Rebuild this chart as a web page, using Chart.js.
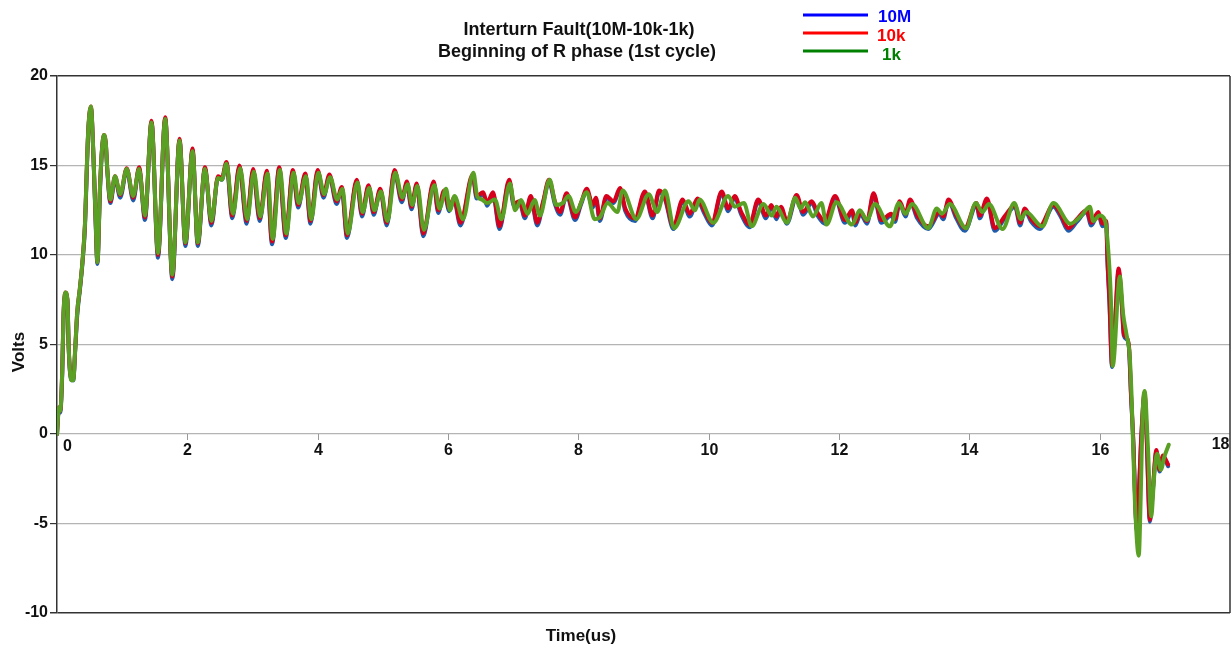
<!DOCTYPE html>
<html><head><meta charset="utf-8">
<script src="https://cdn.jsdelivr.net/npm/chart.js@4.4.1/dist/chart.umd.min.js"></script>
<style>html,body{margin:0;padding:0;background:#fff;overflow:hidden}#wrap{width:1232px;height:645px;position:relative}</style>
</head><body><div id="wrap"><canvas id="c" width="1232" height="645"></canvas></div>
<script>
// ---- data ----
const titleLines = ['Interturn Fault(10M-10k-1k)', 'Beginning of R phase (1st cycle)'];
const seriesNames = ['10M', '10k', '1k'];
const xTickValues = [0, 2, 4, 6, 8, 10, 12, 14, 16, 18];
const yTickValues = [-10, -5, 0, 5, 10, 15, 20];
const xTitle = 'Time(us)';
const yTitle = 'Volts';

// time samples (us) shared by the 10M and 10k traces
const timeA = [0,0.03,0.05,0.08,0.10,0.13,0.16,0.18,0.22,0.25,
0.28,0.31,0.35,0.39,0.43,0.455,0.48,0.52,0.56,0.59,
0.62,0.66,0.69,0.72,0.75,0.77,0.82,0.89,0.97,1.07,
1.17,1.26,1.35,1.45,1.55,1.66,1.77,1.88,1.97,2.08,
2.16,2.27,2.37,2.47,2.53,2.60,2.69,2.80,2.91,3.01,
3.11,3.22,3.30,3.41,3.51,3.62,3.70,3.81,3.89,4.00,
4.09,4.18,4.29,4.37,4.45,4.60,4.68,4.78,4.86,4.96,
5.06,5.18,5.29,5.37,5.44,5.52,5.62,5.78,5.85,5.94,
6.02,6.09,6.19,6.38,6.44,6.54,6.60,6.69,6.79,6.94,
7.01,7.10,7.18,7.27,7.37,7.46,7.55,7.64,7.72,7.82,
7.95,8.04,8.13,8.22,8.27,8.33,8.43,8.54,8.64,8.72,
8.87,9.02,9.14,9.24,9.33,9.46,9.60,9.71,9.83,9.93,
10.05,10.20,10.30,10.40,10.50,10.63,10.76,10.88,10.96,11.04,
11.11,11.20,11.35,11.45,11.58,11.68,11.78,11.94,12.09,12.20,
12.25,12.33,12.43,12.53,12.65,12.80,12.86,12.93,13.02,13.09,
13.20,13.37,13.54,13.60,13.68,13.80,13.93,14.11,14.16,14.27,
14.39,14.55,14.70,14.78,14.85,14.95,15.08,15.29,15.40,15.52,
15.65,15.80,15.87,15.98,16.04,16.10,16.12,16.15,16.19,16.24,
16.29,16.34,16.37,16.41,16.45,16.48,16.52,16.54,16.57,16.60,
16.64,16.69,16.72,16.77,16.81,16.87,16.92,16.97,17.05];

const volts10M = [0,1.4,1.2,3.3,6.5,7.8,7.4,4.7,3.0,3.0,
4.7,6.6,8.0,9.5,11.6,14.4,16.9,18.2,15.4,12.1,
9.5,13.6,15.8,16.6,16.1,14.8,12.9,14.3,13.2,14.75,
13.05,14.8,11.95,17.4,9.85,17.6,8.65,16.4,10.5,15.85,
10.5,14.8,11.65,14.3,14.2,15.1,12.05,14.9,11.75,14.7,
11.9,14.6,10.6,14.8,10.95,14.65,12.65,14.45,11.75,14.65,
13.2,14.4,12.85,13.7,10.95,14.1,12.15,13.8,12.25,13.6,
11.65,14.65,12.95,14.0,12.55,13.9,11.05,14.0,12.35,13.5,
12.45,13.1,11.65,14.4,13.15,13.4,12.75,13.4,11.45,14.1,
12.75,12.9,12.05,13.2,11.65,12.9,14.1,12.85,12.25,13.35,
11.95,12.8,13.6,12.65,13.1,11.9,13.2,12.9,13.65,12.45,
11.9,13.45,12.05,13.5,13.1,11.45,13.0,12.15,13.05,12.35,
11.65,13.45,12.45,13.2,12.25,11.55,13.0,12.05,12.7,12.0,
12.6,11.75,13.25,12.25,12.9,12.15,11.75,13.2,11.8,12.4,
11.65,12.3,11.75,13.35,11.8,12.2,11.85,12.9,12.15,13.0,
12.05,11.45,12.3,12.0,13.0,12.05,11.35,12.8,12.05,13.05,
11.35,12.1,12.7,11.65,12.5,11.85,11.45,12.7,12.15,11.35,
11.85,12.4,11.65,12.3,11.6,11.8,9.6,7.3,3.75,6.4,
9.1,7.2,5.5,5.3,4.8,2.2,-0.8,-3.2,-5.4,-3.5,
-0.1,2.2,-0.1,-4.9,-3.5,-1.0,-2.1,-1.3,-1.8];

const volts10k = [0,1.5,1.3,3.5,6.7,7.9,7.5,4.8,3.1,3.1,
4.8,6.8,8.1,9.6,11.8,14.6,17.0,18.3,15.5,12.3,
9.6,13.8,15.9,16.7,16.2,14.9,13.0,14.4,13.35,14.85,
13.2,14.9,12.1,17.5,10.0,17.7,8.8,16.5,10.65,15.95,
10.65,14.9,11.8,14.4,14.3,15.2,12.2,15.0,11.9,14.8,
12.05,14.7,10.75,14.9,11.1,14.75,12.8,14.55,11.9,14.75,
13.35,14.5,13.0,13.8,11.1,14.2,12.3,13.9,12.4,13.7,
11.8,14.75,13.1,14.1,12.7,14.0,11.2,14.1,12.5,13.6,
12.6,13.2,11.8,14.5,13.3,13.5,12.9,13.5,11.6,14.2,
12.9,13.0,12.2,13.3,11.8,13.0,14.2,13.0,12.4,13.45,
12.1,12.9,13.7,12.8,13.2,12.05,13.3,13.0,13.75,12.6,
12.05,13.55,12.2,13.6,13.2,11.6,13.1,12.3,13.15,12.5,
11.8,13.55,12.6,13.3,12.4,11.7,13.1,12.2,12.8,12.15,
12.7,11.9,13.35,12.4,13.0,12.3,11.9,13.3,11.95,12.5,
11.8,12.4,11.9,13.45,11.95,12.3,12.0,13.0,12.3,13.1,
12.2,11.6,12.4,12.15,13.1,12.2,11.5,12.9,12.2,13.15,
11.5,12.2,12.8,11.8,12.6,12.0,11.6,12.8,12.3,11.5,
12.0,12.5,11.8,12.4,11.75,11.9,9.7,7.5,3.85,6.5,
9.25,7.3,5.6,5.4,4.9,2.3,-0.7,-3.1,-5.3,-3.4,
0.0,2.3,0.0,-4.8,-3.4,-0.9,-2.0,-1.2,-1.7];

// 1k trace: [time (us), volts]
const points1k = [[0,0],[0.03,1.5],[0.05,1.3],[0.08,3.5],[0.10,6.7],[0.13,7.9],[0.16,7.5],[0.18,4.8],[0.22,3.0],[0.25,3.0],
[0.28,4.8],[0.31,6.8],[0.35,8.1],[0.39,9.6],[0.43,11.8],[0.455,14.6],[0.48,17.0],[0.52,18.3],[0.56,15.5],[0.59,12.3],
[0.62,9.6],[0.66,13.8],[0.69,15.9],[0.72,16.7],[0.75,16.2],[0.77,14.9],[0.82,13.1],[0.89,14.4],[0.97,13.4],[1.07,14.8],
[1.17,13.3],[1.26,14.8],[1.35,12.2],[1.45,17.4],[1.55,10.1],[1.66,17.6],[1.77,8.9],[1.88,16.4],[1.97,10.7],[2.08,15.8],
[2.16,10.7],[2.27,14.8],[2.37,11.9],[2.47,14.3],[2.53,14.2],[2.60,15.1],[2.70,12.3],[2.81,14.85],[2.92,12.0],[3.02,14.65],
[3.12,12.15],[3.23,14.55],[3.31,10.9],[3.42,14.75],[3.52,11.2],[3.63,14.6],[3.71,12.9],[3.82,14.4],[3.90,12.0],[4.01,14.6],
[4.10,13.4],[4.19,14.35],[4.30,13.1],[4.38,13.7],[4.46,11.2],[4.61,14.05],[4.69,12.4],[4.79,13.75],[4.87,12.5],[4.97,13.55],
[5.07,11.9],[5.19,14.6],[5.30,13.2],[5.38,13.95],[5.45,12.8],[5.53,13.85],[5.63,11.4],[5.79,13.9],[5.87,12.6],[5.97,13.7],
[6.03,12.5],[6.10,13.3],[6.23,12.0],[6.39,14.6],[6.45,13.25],[6.52,13.1],[6.60,12.9],[6.72,13.1],[6.82,12.0],[6.95,14.0],
[7.03,12.5],[7.12,13.07],[7.22,12.3],[7.33,13.07],[7.41,12.2],[7.56,14.2],[7.66,12.8],[7.76,12.9],[7.85,13.3],[7.96,12.4],
[8.13,13.5],[8.25,12.0],[8.33,12.1],[8.45,12.9],[8.60,12.4],[8.68,13.6],[8.89,12.0],[9.08,13.4],[9.21,12.4],[9.33,13.6],
[9.47,11.5],[9.69,13.0],[9.79,12.5],[9.86,13.1],[10.07,11.8],[10.30,13.3],[10.40,12.7],[10.54,12.9],[10.66,11.6],[10.84,12.85],
[10.97,12.2],[11.04,12.7],[11.20,11.8],[11.33,13.2],[11.41,12.6],[11.48,12.95],[11.60,12.15],[11.73,12.9],[11.81,11.7],[11.96,12.95],
[12.20,11.7],[12.32,12.5],[12.43,11.95],[12.55,12.85],[12.78,11.6],[12.92,12.9],[13.02,12.3],[13.12,12.85],[13.37,11.5],[13.50,12.6],
[13.58,12.3],[13.70,12.85],[13.95,11.5],[14.10,12.9],[14.20,12.4],[14.30,12.85],[14.51,11.45],[14.69,12.9],[14.79,12.0],[14.87,12.4],
[15.12,11.6],[15.29,12.9],[15.55,11.75],[15.72,12.2],[15.85,12.7],[15.90,11.9],[16.00,12.2],[16.08,11.95],[16.15,9.25],[16.18,6.7],
[16.20,3.8],[16.31,8.8],[16.36,6.7],[16.41,5.6],[16.46,4.4],[16.49,2.1],[16.54,-3.7],[16.60,-6.8],[16.63,-3.5],[16.66,1.2],
[16.69,2.4],[16.74,-0.7],[16.79,-4.6],[16.84,-2.2],[16.88,-1.1],[16.94,-2.0],[16.99,-1.3],[17.06,-0.6]];

// ---- build chart ----
const FONT = '"Liberation Sans", Arial, Helvetica, sans-serif';
function pairUp(ts, vs){ const n = Math.min(ts.length, vs.length); const out=[]; for(let i=0;i<n;i++) out.push({x:ts[i], y:vs[i]}); return out; }
const data10M = pairUp(timeA, volts10M);
const data10k = pairUp(timeA, volts10k);
const data1k = points1k.map(p => ({x:p[0], y:p[1]}));

const plotColors = ['#1f5cab', '#d6001c', '#5aa024'];
const legendColors = ['#0000ff', '#ff0000', '#008000'];

const deco = {
  id: 'deco',
  afterDraw(chart){
    const {ctx, chartArea:a, scales:{x, y}} = chart;
    ctx.save();
    // right frame line
    ctx.strokeStyle = '#333'; ctx.lineWidth = 1.5;
    ctx.beginPath(); ctx.moveTo(a.right, a.top); ctx.lineTo(a.right, a.bottom); ctx.stroke();
    // x ticks on the zero line
    const y0 = y.getPixelForValue(0);
    ctx.strokeStyle = '#999'; ctx.lineWidth = 1;
    ctx.fillStyle = '#111';
    ctx.font = 'bold 16px ' + FONT;
    ctx.textBaseline = 'middle';
    xTickValues.forEach((v, i) => {
      const px = Math.round(x.getPixelForValue(v)) + 0.5;
      if (i > 0 && i < xTickValues.length - 1) {
        ctx.beginPath(); ctx.moveTo(px, y0); ctx.lineTo(px, y0 + 6); ctx.stroke();
      }
      let tx = px, al = 'center', ty = y0 + 17;
      if (i === 0) { tx = px + 10; ty = y0 + 13; }
      if (i === xTickValues.length - 1) { tx = px - 1; al = 'right'; ty = y0 + 11; }
      ctx.textAlign = al;
      ctx.fillText(String(v), tx, ty);
    });
    // titles
    ctx.textBaseline = 'alphabetic';
    ctx.textAlign = 'center';
    ctx.fillStyle = '#111';
    ctx.font = 'bold 18px ' + FONT;
    ctx.fillText(titleLines[0], 579, 35);
    ctx.fillText(titleLines[1], 577, 56.5);
    // legend
    const ly = [15, 33, 51], lb = [22, 41, 60], lx = [878, 877, 882];
    ctx.font = 'bold 17px ' + FONT;
    ctx.textAlign = 'left';
    seriesNames.forEach((nm, i) => {
      ctx.strokeStyle = legendColors[i]; ctx.lineWidth = 3;
      ctx.beginPath(); ctx.moveTo(803, ly[i]); ctx.lineTo(868, ly[i]); ctx.stroke();
      ctx.fillStyle = legendColors[i];
      ctx.fillText(nm, lx[i], lb[i]);
    });
    // axis titles
    ctx.fillStyle = '#111';
    ctx.font = 'bold 17px ' + FONT;
    ctx.textAlign = 'center';
    ctx.fillText(xTitle, 581, 641);
    ctx.save();
    ctx.translate(24, 352);
    ctx.rotate(-Math.PI/2);
    ctx.fillText(yTitle, 0, 0);
    ctx.restore();
    ctx.restore();
  }
};

const lineDs = (label, data, color, order) => ({
  label, data, borderColor: color, backgroundColor: color,
  borderWidth: 4, pointRadius: 0, pointHoverRadius: 0, fill: false,
  cubicInterpolationMode: 'monotone', order, borderJoinStyle: 'round', borderCapStyle: 'round'
});

new Chart(document.getElementById('c'), {
  type: 'line',
  data: { datasets: [
    lineDs(seriesNames[0], data10M, plotColors[0], 2),
    lineDs(seriesNames[1], data10k, plotColors[1], 1),
    lineDs(seriesNames[2], data1k, plotColors[2], 0)
  ]},
  options: {
    responsive: false, animation: false, devicePixelRatio: 1,
    layout: { padding: { top: 76, right: 2, bottom: 32, left: 0 } },
    plugins: { legend: { display: false }, title: { display: false }, tooltip: { enabled: false } },
    events: [],
    scales: {
      x: { type: 'linear', display: false, min: xTickValues[0], max: xTickValues[xTickValues.length-1] },
      y: {
        type: 'linear', min: yTickValues[0], max: yTickValues[yTickValues.length-1],
        afterFit(s){ s.width = 57; },
        afterBuildTicks(s){ s.ticks = yTickValues.map(v => ({value: v})); },
        ticks: { font: { family: FONT, size: 16, weight: 'bold' }, color: '#111', padding: 2, autoSkip: false },
        grid: {
          color: c => (c.tick && (c.tick.value === 20 || c.tick.value === -10)) ? '#333' : '#b4b4b4',
          lineWidth: c => (c.tick && (c.tick.value === 20 || c.tick.value === -10)) ? 1.5 : 1.2,
          tickColor: '#333', tickLength: 7, drawTicks: true
        },
        border: { display: true, color: '#333', width: 1.5 }
      }
    }
  },
  plugins: [deco]
});
</script></body></html>
